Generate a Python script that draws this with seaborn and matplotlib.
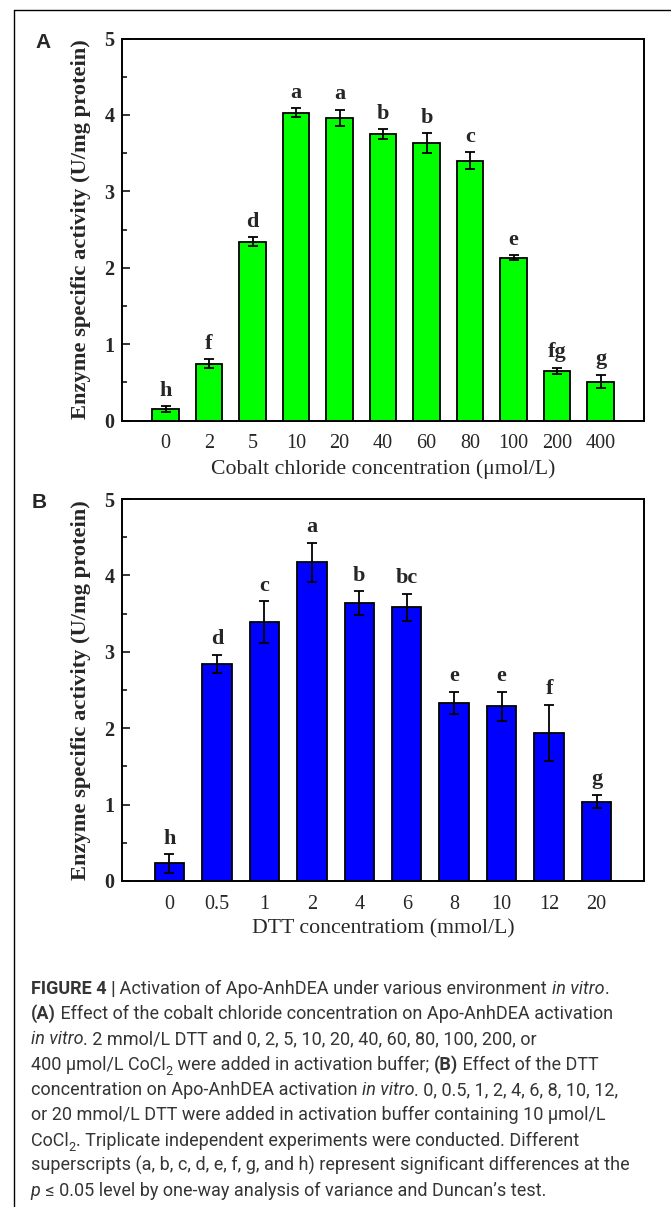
import numpy as np
import pandas as pd
import matplotlib
matplotlib.use("Agg")
import matplotlib.pyplot as plt
import seaborn as sns
from matplotlib.ticker import MultipleLocator
from matplotlib.font_manager import FontProperties
from matplotlib.lines import Line2D

# ---------------- data ----------------
cobalt_labels = ["0", "2", "5", "10", "20", "40", "60", "80", "100", "200", "400"]
cobalt_mean = [0.145, 0.745, 2.34, 4.03, 3.96, 3.75, 3.63, 3.40, 2.13, 0.65, 0.51]
cobalt_err = [0.04, 0.06, 0.06, 0.06, 0.11, 0.065, 0.13, 0.11, 0.03, 0.04, 0.09]
cobalt_sig = ["h", "f", "d", "a", "a", "b", "b", "c", "e", "fg", "g"]

dtt_labels = ["0", "0.5", "1", "2", "4", "6", "8", "10", "12", "20"]
dtt_mean = [0.23, 2.84, 3.39, 4.17, 3.64, 3.58, 2.33, 2.29, 1.94, 1.04]
dtt_err = [0.12, 0.12, 0.27, 0.26, 0.155, 0.18, 0.145, 0.19, 0.37, 0.09]
dtt_sig = ["h", "d", "c", "a", "b", "bc", "e", "e", "f", "g"]

y_ticks = [0, 1, 2, 3, 4, 5]
y_label = "Enzyme specific activity (U/mg protein)"
x_label_a = "Cobalt chloride concentration (\u03bcmol/L)"
x_label_b = "DTT concentratiom (mmol/L)"

caption_lines = [
    [("FIGURE 4 |", "b"), (" Activation of Apo-AnhDEA under various environment ", ""),
     ("in vitro", "i"), (".", "")],
    [("(A)", "b"), (" Effect of the cobalt chloride concentration on Apo-AnhDEA activation", "")],
    [("in vitro", "i"), (". 2 mmol/L DTT and 0, 2, 5, 10, 20, 40, 60, 80, 100, 200, or", "")],
    [("400 \u03bcmol/L CoCl", ""), ("2", "s"), (" were added in activation buffer; ", ""),
     ("(B)", "b"), (" Effect of the DTT", "")],
    [("concentration on Apo-AnhDEA activation ", ""), ("in vitro", "i"),
     (". 0, 0.5, 1, 2, 4, 6, 8, 10, 12,", "")],
    [("or 20 mmol/L DTT were added in activation buffer containing 10 \u03bcmol/L", "")],
    [("CoCl", ""), ("2", "s"), (". Triplicate independent experiments were conducted. Different", "")],
    [("superscripts (a, b, c, d, e, f, g, and h) represent significant differences at the", "")],
    [("p", "i"), (" \u2264 0.05 level by one-way analysis of variance and Duncan\u2019s test.", "")],
]

# ---------------- style ----------------
W, H, DPI = 671, 1207, 100
sns.set_style("ticks")
plt.rcParams["font.family"] = ["Liberation Serif", "DejaVu Serif"]
plt.rcParams["axes.linewidth"] = 1.4

fig = plt.figure(figsize=(W / DPI, H / DPI), dpi=DPI)


def fx(x):
    return x / W


def fy(y):
    return 1 - y / H


def panel(top_px, bottom_px, labels, means, errs, sigs, color, xlabel):
    left_px, right_px = 122, 644
    ax = fig.add_axes([fx(left_px), fy(bottom_px), (right_px - left_px) / W,
                       (bottom_px - top_px) / H])
    df = pd.DataFrame({"conc": labels, "act": means})
    sns.barplot(data=df, x="conc", y="act", order=labels, color=color,
                saturation=1, edgecolor="black", linewidth=1.3, width=0.62,
                errorbar=None, ax=ax)
    xs = np.arange(len(labels))
    ax.errorbar(xs, means, yerr=errs, fmt="none", ecolor="black",
                elinewidth=1.3, capsize=3.5, capthick=1.3, zorder=5)
    for x, m, e, s in zip(xs, means, errs, sigs):
        ax.annotate(s, xy=(x, m + e), xytext=(0, 7.5), textcoords="offset points",
                    ha="center", va="baseline", fontsize=16, fontweight="bold")
    ax.set_xlim(-1, len(labels))
    ax.set_ylim(0, 5)
    ax.set_yticks(y_ticks)
    ax.yaxis.set_minor_locator(MultipleLocator(0.5))
    ax.tick_params(axis="y", which="major", direction="in", length=6, width=1.3,
                   labelsize=14.5, pad=5.5, right=False)
    ax.tick_params(axis="y", which="minor", direction="in", length=3.3, width=1.3,
                   right=False)
    ax.tick_params(axis="x", which="both", length=0, labelsize=14.5, pad=10)
    for lbl in ax.get_yticklabels():
        lbl.set_fontweight("bold")
    ax.set_ylabel(y_label, fontsize=16.2, fontweight="bold")
    ax.yaxis.set_label_coords(-0.060, 0.5)
    ax.set_xlabel(xlabel, fontsize=15.7, labelpad=4)
    for sp in ax.spines.values():
        sp.set_visible(True)
        sp.set_linewidth(1.4)
        sp.set_color("black")
    return ax


panel(38.5, 420.5, cobalt_labels, cobalt_mean, cobalt_err, cobalt_sig,
      "#00ff00", x_label_a)
panel(499, 881, dtt_labels, dtt_mean, dtt_err, dtt_sig, "#0000ff", x_label_b)

# panel letters
fig.text(fx(35), fy(32.5), "A", fontsize=15, fontweight="bold",
         family="Liberation Sans", va="top", ha="left")
fig.text(fx(32), fy(493.5), "B", fontsize=15, fontweight="bold",
         family="Liberation Sans", va="top", ha="left")

# outer frame (top and left edges visible)
fig.add_artist(Line2D([fx(14.3), 1.0], [fy(10.3), fy(10.3)],
                      transform=fig.transFigure, color="black", lw=1.0))
fig.add_artist(Line2D([fx(14.3), fx(14.3)], [fy(10.3), 0.0],
                      transform=fig.transFigure, color="black", lw=1.0))

# ---------------- caption ----------------
renderer = fig.canvas.get_renderer()
CAP_FAMILY = ["Roboto", "Liberation Sans", "DejaVu Sans"]
CAP_COLOR = "#353535"


def prop_for(style, size):
    return FontProperties(family=CAP_FAMILY, size=size,
                          weight="bold" if "b" in style else "normal",
                          style="italic" if "i" in style else "normal")


def width_px(text, prop):
    w1, _, _ = renderer.get_text_width_height_descent("|" + text + "|", prop, ismath=False)
    w0, _, _ = renderer.get_text_width_height_descent("||", prop, ismath=False)
    return w1 - w0


def line_width(pieces, size):
    total = 0
    for t, st in pieces:
        s = size * 0.7 if "s" in st else size
        total += width_px(t, prop_for(st, s))
    return total


# fit font size so the longest reference line spans the reference width
ref_w = line_width(caption_lines[4], 10.0)
cap_size = 10.0 * 613.0 / ref_w
cap_size = min(cap_size, 13.0)

x0 = 30.8
base0 = 994
step = 25.25
for i, pieces in enumerate(caption_lines):
    x = x0
    y = base0 + i * step
    for t, st in pieces:
        size = cap_size * 0.7 if "s" in st else cap_size
        prop = prop_for(st, size)
        yy = y + (cap_size * 0.3 * DPI / 72 if "s" in st else 0)
        fig.text(fx(x), fy(yy), t, fontproperties=prop, color=CAP_COLOR,
                 ha="left", va="baseline")
        x += width_px(t, prop)

fig.savefig("out.png", dpi=DPI)
